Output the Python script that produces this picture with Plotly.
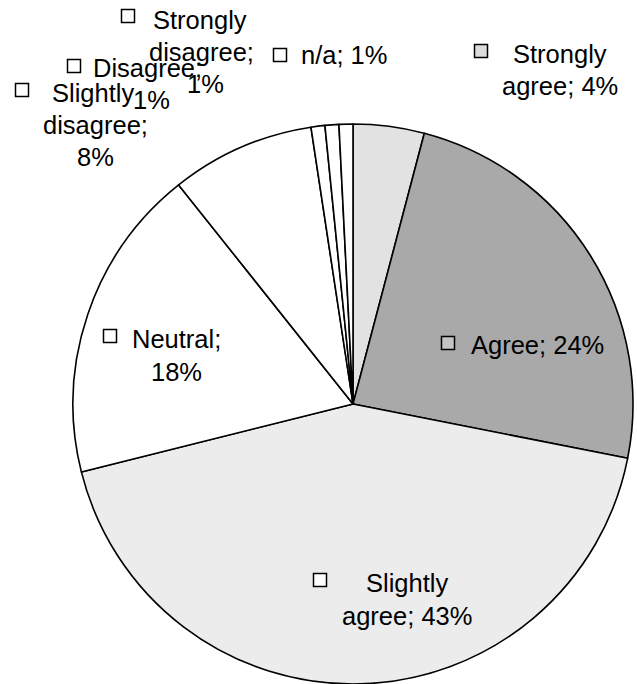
import plotly.graph_objects as go

# ---- data ----
categories = ["Strongly agree", "Agree", "Slightly agree", "Neutral",
              "Slightly disagree", "Disagree", "Strongly disagree", "n/a"]
values = [4.1, 24.0, 43.0, 18.2, 8.3, 0.8, 0.8, 0.8]
label_pct = ["4%", "24%", "43%", "18%", "8%", "1%", "1%", "1%"]

# ---- style ----
W, H = 637, 684
fills = ["#e2e2e2", "#a9a9a9", "#ececec", "#ffffff",
         "#ffffff", "#ffffff", "#ffffff", "#ffffff"]
key_fills = ["#dcdcdc", "#c4c4c4", "#ffffff", "#ffffff",
             "#ffffff", "#ffffff", "#ffffff", "#ffffff"]
FONT = "Liberation Sans, Arial, sans-serif"
FS = 25.5

# label layout in pixels: key square center, then line centers
label_layout = {
    "Strongly agree": ((481, 51), [("Strongly", 560, 54), ("agree; {p}", 560, 86)]),
    "Agree": ((448, 343), [("Agree; {p}", 537, 345)]),
    "Slightly agree": ((320, 580), [("Slightly", 407, 583), ("agree; {p}", 407, 616)]),
    "Neutral": ((110, 336), [("Neutral;", 176, 339), ("{p}", 176, 372)]),
    "Slightly disagree": ((22, 90), [("Slightly", 93, 93), ("disagree;", 95, 125), ("{p}", 95, 157)]),
    "Disagree": ((74, 66), [("Disagree;", 147, 68), ("{p}", 151, 100)]),
    "Strongly disagree": ((128, 16), [("Strongly", 200, 20), ("disagree;", 201, 52), ("{p}", 205, 84)]),
    "n/a": ((280, 55), [("n/a; {p}", 344, 55)]),
}

cx, cy, r = 353, 404, 280

fig = go.Figure(go.Pie(
    labels=categories,
    values=values,
    sort=False,
    direction="clockwise",
    rotation=0,
    textinfo="none",
    hoverinfo="label+percent",
    marker=dict(colors=fills, line=dict(color="#000000", width=1.6)),
    domain=dict(x=[(cx - r) / W, (cx + r) / W], y=[(H - cy - r) / H, (H - cy + r) / H]),
))

annotations = []
shapes = []
s = 6.5
for cat, pct, kf in zip(categories, label_pct, key_fills):
    (kx, ky), lines = label_layout[cat]
    shapes.append(dict(type="rect", xref="paper", yref="paper",
                       x0=(kx - s) / W, x1=(kx + s) / W,
                       y0=1 - (ky + s) / H, y1=1 - (ky - s) / H,
                       line=dict(color="#000000", width=1.5), fillcolor=kf))
    for txt, lx, ly in lines:
        annotations.append(dict(text=txt.format(p=pct), xref="paper", yref="paper",
                                x=lx / W, y=1 - ly / H, xanchor="center", yanchor="middle",
                                showarrow=False,
                                font=dict(family=FONT, size=FS, color="#000000")))

fig.update_layout(
    width=W, height=H,
    margin=dict(l=0, r=0, t=0, b=0),
    paper_bgcolor="white",
    plot_bgcolor="white",
    showlegend=False,
    annotations=annotations,
    shapes=shapes,
)

fig.write_html("out.html")
